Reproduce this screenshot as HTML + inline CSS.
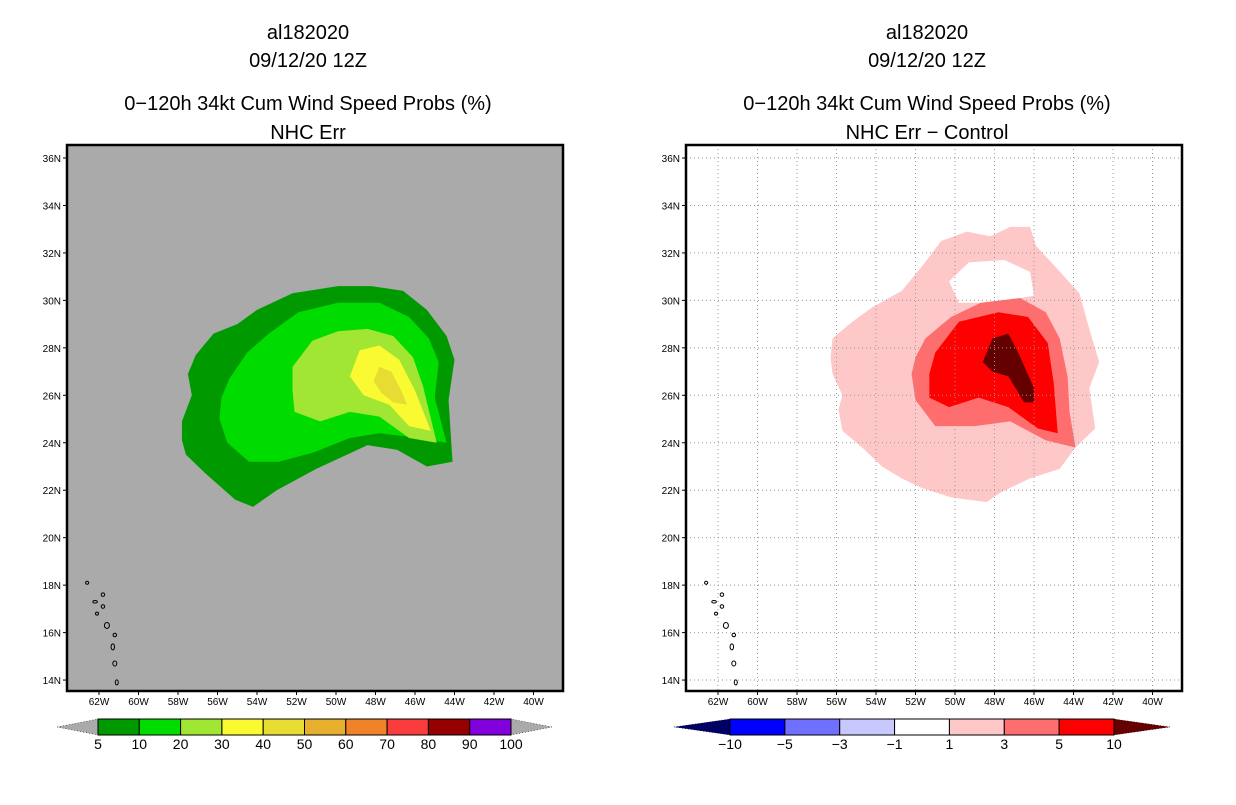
<!DOCTYPE html>
<html><head><meta charset="utf-8"><style>
body{margin:0;background:#fff;width:1236px;height:800px;overflow:hidden}
svg text{font-family:"Liberation Sans",sans-serif}
</style></head><body>
<svg id="s" width="1236" height="800"></svg>
<script>
// ---- data ----
const latTicks=[36,34,32,30,28,26,24,22,20,18,16,14];
const lonTicks=[62,60,58,56,54,52,50,48,46,44,42,40];
const leftLevels=["5","10","20","30","40","50","60","70","80","90","100"];
const leftColors=["#009a00","#00dc00","#a0e632","#fafa32","#e6dc32","#e6af2d","#f08228","#fa3c3c","#960000","#8200dc"];
const rightLevels=["-10","-5","-3","-1","1","3","5","10"];
const rightColors=["#0000ff","#7070ff","#c8c8ff","#ffffff","#ffc8c8","#ff6e6e","#ff0000"];
// contour polygons in [lonW, latN]
const L5=[[57.8,24.1],[57.8,24.9],[57.3,26.0],[57.5,26.9],[57.1,27.7],[56.2,28.6],[55.0,29.0],[54.0,29.6],[52.2,30.3],[49.9,30.6],[48.2,30.6],[46.6,30.4],[45.4,29.6],[44.4,28.5],[44.0,27.5],[44.3,25.8],[44.1,23.2],[45.4,23.0],[46.9,23.7],[48.4,23.9],[51.0,22.9],[53.0,22.0],[54.2,21.3],[55.1,21.6],[56.6,22.7],[57.6,23.5]];
const L10=[[55.9,25.0],[55.8,25.9],[55.4,26.7],[54.5,27.8],[53.4,28.6],[51.9,29.5],[49.9,29.9],[47.8,29.9],[46.3,29.3],[45.3,28.4],[44.8,27.4],[45.0,25.9],[44.4,24.0],[45.8,24.2],[47.8,24.4],[49.3,24.2],[51.1,23.6],[52.9,23.2],[54.4,23.2],[55.5,24.0]];
const L20=[[52.2,27.2],[51.2,28.3],[49.9,28.7],[48.4,28.8],[47.1,28.5],[46.1,27.6],[45.6,26.4],[44.9,24.0],[46.3,24.2],[47.8,25.1],[49.3,25.3],[50.8,24.9],[52.1,25.3],[52.2,26.2]];
const L30=[[49.3,26.8],[48.8,27.9],[47.8,28.1],[46.8,27.5],[46.0,26.2],[45.2,24.5],[46.3,24.7],[47.3,25.6],[48.6,26.0]];
const L40=[[48.1,26.6],[47.8,27.2],[47.2,27.0],[46.7,26.2],[46.4,25.6],[47.1,25.7],[47.7,26.1]];
const R1=[[56.3,27.6],[56.2,28.4],[55.2,29.1],[54.2,29.7],[52.7,30.4],[51.7,31.4],[50.7,32.5],[49.4,32.9],[48.2,32.7],[47.2,33.1],[46.2,33.1],[45.9,32.3],[44.9,31.4],[43.7,30.3],[43.2,28.8],[42.7,27.4],[43.2,26.3],[42.9,24.6],[43.9,23.8],[44.7,22.9],[46.2,22.5],[47.7,21.9],[48.4,21.5],[50.2,21.7],[51.7,22.1],[52.7,22.5],[53.7,23.0],[54.7,23.8],[55.7,24.5],[55.9,25.4],[55.7,26.0],[56.2,26.9]];
const RH=[[50.3,30.8],[49.3,31.6],[47.5,31.7],[46.2,31.2],[46.0,30.2],[48.0,29.9],[49.8,29.9]];
const R3=[[52.0,27.6],[51.5,28.4],[50.2,29.3],[48.7,29.9],[46.7,30.1],[45.4,29.5],[44.7,28.4],[44.3,26.8],[44.2,25.3],[43.9,23.8],[45.4,24.1],[47.2,24.9],[49.0,24.7],[51.0,24.7],[52.0,25.8],[52.2,26.9]];
const R5=[[51.3,26.9],[51.0,27.8],[49.8,29.1],[47.8,29.5],[46.3,29.3],[45.3,28.2],[45.0,26.5],[44.8,24.4],[45.8,24.6],[47.3,25.5],[48.8,25.9],[50.3,25.5],[51.3,25.9]];
const R10=[[48.6,27.4],[48.1,28.4],[47.3,28.6],[46.8,27.8],[46.0,26.3],[46.0,25.7],[46.5,25.7],[47.3,26.8],[48.1,27.0]];
const islands=[[62.6,18.1,2.2,2],[61.8,17.6,2.5,2.5],[61.8,17.1,2.5,2.5],[62.1,16.8,2,2],[61.6,16.3,4,5],[61.2,15.9,2.5,2.5],[61.3,15.4,2.5,5],[61.2,14.7,3,4],[61.1,13.9,2,4],[62.2,17.3,3.5,1.5]];

const NS="http://www.w3.org/2000/svg";
const svg=document.getElementById('s');
function el(t,a,p){const e=document.createElementNS(NS,t);for(const k in a)e.setAttribute(k,a[k]);(p||svg).appendChild(e);return e;}
function txt(x,y,s,size,anchor,p){const e=el('text',{x:x,y:y,'font-size':size,'text-anchor':anchor||'middle',fill:'#000'},p);e.textContent=s;return e;}

function panel(ox,bg,grid,layers,hole,name,sub,levels,colors,cbx0,cbx1,aw,ext1,ext2){
  const g=el('g',{});
  
  
  const cx=ox+241;
  const fx=ox,fw=496,fy=145,fh=546;
  const X=lon=>ox+32+(62-lon)*19.75;
  const Y=lat=>158+(36-lat)*23.73;
  let t;
  t=txt(cx,39,'al182020',20,'middle',g);
  t=txt(cx,67,'09/12/20 12Z',20,'middle',g);
  t=txt(cx,110,'0\u2212120h 34kt Cum Wind Speed Probs (%)',20,'middle',g);
  t=txt(cx,139,sub,20,'middle',g);
  const bgr=el('rect',{x:fx,y:fy,width:fw,height:fh,fill:bg},g);
  
  layers.forEach((ly,i)=>{
    const p=el('polygon',{points:ly[0].map(q=>X(q[0])+','+Y(q[1])).join(' '),fill:ly[1]},g);
    
    
    if(i===0&&hole){const h=el('polygon',{points:hole.map(q=>X(q[0])+','+Y(q[1])).join(' '),fill:bg},g);
      }
  });
  if(grid){
    lonTicks.forEach(l=>{const ln=el('line',{x1:X(l),x2:X(l),y1:fy,y2:fy+fh,stroke:'#999','stroke-dasharray':'1,3','stroke-width':1},g);
      });
    latTicks.forEach(l=>{const ln=el('line',{x1:fx,x2:fx+fw,y1:Y(l),y2:Y(l),stroke:'#999','stroke-dasharray':'1,3','stroke-width':1},g);
      });
  }
  islands.forEach(q=>{const e=el('ellipse',{cx:X(q[0]),cy:Y(q[1]),rx:q[2]/2+0.5,ry:q[3]/2+0.5,fill:'none',stroke:'#000','stroke-width':1},g);
    });
  const fr=el('rect',{x:fx,y:fy,width:fw,height:fh,fill:'none',stroke:'#000','stroke-width':2.5},g);
  
  latTicks.forEach(l=>{el('line',{x1:fx-4,x2:fx,y1:Y(l),y2:Y(l),stroke:'#000'},g);
    const tt=txt(fx-6,Y(l)+4,l+'N',10,'end',g);});
  lonTicks.forEach(l=>{el('line',{x1:X(l),x2:X(l),y1:fy+fh,y2:fy+fh+4,stroke:'#000'},g);
    const tt=txt(X(l),fy+fh+14,l+'W',10,'middle',g);});
  // colorbar
  const cb=el('g',{},g);
  
  const n=colors.length,w=(cbx1-cbx0)/n,y0=719,h=16;
  const a1=el('polygon',{points:(cbx0-aw)+','+(y0+h/2)+' '+cbx0+','+y0+' '+cbx0+','+(y0+h),fill:ext1,stroke:'#000','stroke-width':0.5,'stroke-dasharray':'1,2'},cb);
  
  const a2=el('polygon',{points:(cbx1+aw)+','+(y0+h/2)+' '+cbx1+','+y0+' '+cbx1+','+(y0+h),fill:ext2,stroke:'#000','stroke-width':0.5,'stroke-dasharray':'1,2'},cb);
  
  colors.forEach((c,i)=>{const r=el('rect',{x:cbx0+i*w,y:y0,width:w,height:h,fill:c,stroke:'#000','stroke-width':1},cb);
    });
  levels.forEach((s,i)=>{const tt=txt(cbx0+i*w,y0+h+14,s.replace('-','\u2212'),14,'middle',cb);
    });
}
panel(67,'#aaaaaa',false,[[L5,leftColors[0]],[L10,leftColors[1]],[L20,leftColors[2]],[L30,leftColors[3]],[L40,leftColors[4]]],null,'left','NHC Err',leftLevels,leftColors,98,511,41,'#aaaaaa','#aaaaaa');
panel(686,'#ffffff',true,[[R1,rightColors[4]],[R3,rightColors[5]],[R5,rightColors[6]],[R10,'#640000']],RH,'right','NHC Err \u2212 Control',rightLevels,rightColors,730,1114,56,'#000064','#640000');
</script>
</body></html>
